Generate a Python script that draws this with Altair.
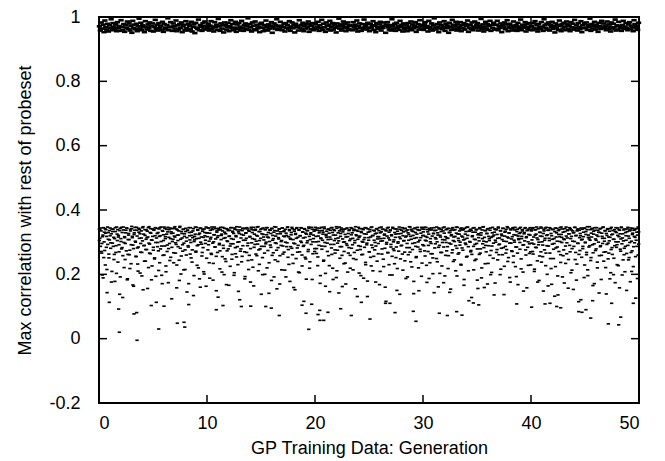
import altair as alt
import pandas as pd

# ---------------- axis ticks ----------------
X_TICKS = [0, 10, 20, 30, 40, 50]
Y_TICKS = [-0.2, 0, 0.2, 0.4, 0.6, 0.8, 1]

X_TITLE = "GP Training Data: Generation"
Y_TITLE = "Max correlation with rest of probeset"

# ---------------- lower band (correlation x 1000), in plotting order per 10 generations ----------------
LOWER_G00 = [341, 312, 287, 335, 266, 198, 322, 345, 301, 274, 229, 339, 318, 143, 293, 330, 251, 307, 344, 281,
             326, 209, 297, 340, 315, 262, 178, 333, 289, 347, 305, 238, 321, 270, 336, 192, 311, 346, 283, 128,
             338, 299, 317, 246, 329, 273, 343, 186, 308, 327, 261, 218, 335, 292, 342, 314, 167, 280, 324, 337,
             303, 256, 346, 319, 232, 285, 331, 340, 204, 296, 313, 268, 345, 152, 325, 290, 339, 241, 309, 277,
             334, 316, 221, 348, 294, 264, 328, 183, 306, 341, 275, 337, 248, 320, 299, 113, 343, 286, 330, 212,
             318, 345, 279, 302, 197, 336, 259, 323, 347, 288, 311, 226, 340, 271, 332, 174, 315, 296, 344, 253,
             327, 284, 342, 309, 236, 319, 348, 266, 293, 158, 338, 305, 322, 244, 346, 281, 201, 333, 313, 272,
             340, 297, 326, 215, 343, 260, 314, 337, 289, 171, 330, 307, 345, 251, 321, 276, 335, 134, 302, 318,
             347, 269, 311, 228, 339, 292, 324, 186, 344, 300, 316, 257, 334, 283, 208, 341, 320, 296, 163, 329]
LOWER_G10 = [329, 276, 344, 303, 188, 337, 315, 262, 341, 297, 234, 323, 347, 285, 310, 149, 335, 268, 320, 343,
             292, 217, 339, 308, 325, 255, 346, 281, 199, 331, 314, 240, 342, 273, 302, 336, 166, 319, 288, 345,
             311, 247, 334, 295, 327, 205, 340, 264, 317, 348, 286, 230, 332, 301, 121, 338, 279, 324, 256, 343,
             306, 342, 270, 193, 328, 312, 345, 289, 243, 336, 259, 318, 176, 341, 298, 330, 222, 346, 284, 309,
             337, 263, 321, 347, 294, 211, 333, 305, 279, 340, 138, 326, 252, 344, 316, 287, 200, 339, 300, 323,
             345, 274, 314, 236, 338, 291, 327, 181, 342, 306, 267, 331, 348, 245, 319, 296, 155, 335, 283, 310,
             341, 258, 326, 302, 214, 344, 288, 333, 269, 317, 340, 192, 321, 298, 347, 277, 231, 336, 312, 286,
             330, 346, 261, 308, 159, 339, 295, 324, 249, 343, 282, 315, 207, 337, 270, 320, 345, 299, 226, 332,
             313, 290, 342, 253, 328, 185, 336, 304, 271, 347, 318, 239, 325, 293, 107, 340, 264, 311, 334, 280]
LOWER_G20 = [338, 301, 265, 344, 227, 319, 290, 335, 172, 313, 346, 278, 306, 331, 244, 342, 287, 203, 324, 315,
             297, 340, 258, 328, 146, 337, 309, 282, 345, 219, 322, 293, 336, 266, 311, 190, 343, 275, 329, 304,
             347, 250, 318, 339, 286, 162, 332, 300, 271, 341, 235, 316, 295, 344, 207, 327, 283, 338, 259, 310,
             323, 343, 292, 214, 336, 268, 305, 348, 246, 320, 131, 334, 289, 315, 342, 277, 196, 330, 302, 262,
             339, 308, 284, 345, 230, 325, 297, 179, 341, 314, 270, 333, 253, 346, 291, 320, 211, 337, 306, 276,
             326, 288, 342, 241, 317, 296, 336, 168, 329, 311, 347, 263, 304, 340, 224, 322, 281, 110, 335, 299,
             344, 267, 313, 331, 198, 338, 293, 320, 256, 346, 279, 307, 233, 341, 325, 285, 150, 334, 301, 272,
             316, 340, 248, 327, 290, 345, 213, 332, 305, 269, 343, 187, 319, 296, 338, 261, 324, 283, 347, 239,
             309, 335, 277, 321, 140, 342, 298, 330, 252, 314, 346, 285, 220, 337, 306, 271, 328, 194, 341, 292]
LOWER_G30 = [332, 289, 346, 257, 318, 304, 175, 339, 271, 325, 343, 236, 311, 296, 338, 264, 202, 327, 345, 282,
             314, 337, 249, 301, 329, 161, 344, 290, 321, 268, 340, 226, 308, 335, 285, 347, 195, 317, 299, 273,
             342, 312, 258, 330, 144, 336, 294, 323, 267, 345, 240, 316, 302, 339, 211, 328, 281, 346, 263, 305,
             325, 291, 341, 229, 319, 338, 275, 307, 184, 343, 297, 333, 254, 312, 347, 286, 118, 334, 300, 270,
             337, 262, 320, 344, 214, 309, 293, 331, 247, 340, 279, 156, 326, 304, 345, 266, 322, 189, 338, 295,
             348, 283, 315, 233, 336, 301, 327, 170, 342, 289, 311, 259, 344, 274, 206, 329, 318, 297, 136, 341,
             306, 339, 268, 324, 245, 347, 292, 313, 199, 335, 281, 320, 261, 343, 303, 225, 331, 287, 340, 277,
             316, 345, 252, 328, 297, 176, 338, 310, 271, 342, 237, 323, 300, 346, 285, 193, 333, 266, 319, 308,
             343, 278, 330, 217, 311, 339, 291, 148, 326, 304, 345, 260, 317, 336, 284, 228, 341, 295, 322, 270]
LOWER_G40 = [335, 297, 343, 263, 316, 209, 338, 284, 325, 347, 242, 308, 292, 181, 331, 319, 270, 344, 301, 255,
             327, 340, 276, 312, 227, 346, 289, 323, 164, 337, 305, 266, 342, 218, 320, 294, 339, 249, 311, 132,
             344, 282, 329, 303, 195, 336, 271, 317, 345, 237, 324, 299, 341, 258, 310, 173, 333, 288, 347, 264,
             313, 338, 246, 326, 290, 342, 205, 318, 280, 335, 153, 330, 302, 346, 268, 321, 232, 340, 296, 115,
             337, 274, 320, 344, 253, 309, 287, 331, 190, 343, 298, 324, 261, 339, 214, 315, 285, 348, 306, 243,
             328, 341, 292, 267, 334, 171, 345, 310, 279, 322, 238, 337, 300, 142, 330, 286, 343, 259, 318, 296,
             346, 269, 312, 335, 221, 327, 293, 340, 248, 316, 304, 186, 342, 277, 323, 262, 336, 199, 309, 289,
             333, 345, 284, 230, 321, 301, 339, 158, 326, 272, 347, 295, 313, 245, 338, 281, 208, 330, 306, 265,
             341, 290, 319, 252, 335, 177, 344, 303, 273, 328, 224, 337, 298, 315, 126, 342, 287, 322, 260, 332]

# second run of lower-band individuals (correlation x 1000)
LOWER2_G00 = [305, 338, 344, 271, 296, 317, 189, 252, 331, 342, 328, 284, 215, 347, 309, 263, 336, 320, 298, 176,
              341, 333, 287, 246, 311, 345, 268, 203, 325, 339, 316, 292, 138, 343, 302, 279, 330, 258, 347, 221,
              314, 296, 337, 344, 183, 262, 322, 308, 275, 340, 233, 349, 318, 291, 163, 329, 346, 300, 255, 337,
              282, 210, 343, 312, 326, 269, 335, 195, 304, 348, 289, 241, 321, 277, 338, 314, 156, 345, 297, 266,
              330, 342, 307, 226, 318, 284, 339, 251, 345, 194, 313, 327, 299, 273, 341, 236, 320, 347, 288, 171,
              334, 305, 260, 343, 317, 208, 325, 291, 346, 280, 339, 243, 311, 332, 124, 302, 328, 267, 344, 316,
              298, 341, 229, 322, 286, 335, 181, 349, 309, 257, 327, 292, 340, 214, 318, 276, 333, 303, 145, 337,
              285, 345, 320, 263, 299, 331, 238, 314, 342, 196, 307, 325, 272, 346, 289, 337, 220, 312, 328, 160,
              343, 294, 268, 339, 315, 201, 330, 306, 347, 250]
LOWER2_G10 = [317, 344, 292, 236, 328, 310, 265, 347, 339, 182, 301, 323, 285, 342, 256, 331, 315, 129, 338, 296,
              273, 346, 321, 207, 335, 290, 312, 343, 248, 326, 168, 304, 340, 279, 318, 337, 225, 295, 345, 262,
              331, 309, 197, 344, 283, 320, 254, 338, 300, 147, 327, 347, 272, 313, 239, 336, 289, 322, 343, 186,
              306, 329, 268, 341, 297, 215, 334, 316, 280, 346, 245, 311, 338, 164, 325, 293, 340, 303, 258, 319,
              348, 276, 231, 333, 312, 287, 342, 199, 324, 307, 266, 339, 295, 345, 220, 316, 330, 141, 302, 337,
              284, 343, 259, 321, 311, 192, 336, 298, 347, 275, 326, 240, 314, 341, 170, 332, 290, 305, 344, 263,
              319, 335, 213, 300, 328, 286, 346, 253, 317, 339, 178, 309, 323, 281, 342, 234, 297, 334, 152, 327,
              312, 345, 269, 290, 338, 205, 320, 303, 344, 260, 331, 287, 116, 340, 315, 248, 325, 298, 336, 277,
              343, 219, 308, 329, 346, 184, 301, 322, 339, 271]
LOWER2_G20 = [346, 318, 280, 337, 254, 302, 329, 343, 196, 311, 288, 336, 325, 241, 347, 299, 163, 320, 334, 271,
              308, 341, 227, 316, 293, 345, 262, 330, 184, 339, 305, 276, 322, 348, 211, 297, 313, 142, 335, 286,
              327, 344, 259, 310, 338, 233, 301, 324, 170, 342, 290, 317, 266, 336, 305, 219, 345, 281, 329, 312,
              249, 340, 298, 155, 323, 337, 275, 309, 346, 204, 319, 287, 333, 261, 342, 300, 188, 326, 314, 237,
              344, 292, 131, 331, 306, 270, 339, 316, 226, 347, 283, 321, 256, 335, 299, 176, 328, 341, 310, 264,
              317, 345, 209, 303, 332, 279, 340, 247, 312, 325, 160, 338, 294, 319, 268, 346, 230, 307, 336, 285,
              323, 198, 343, 301, 274, 330, 315, 252, 341, 218, 297, 326, 347, 138, 311, 289, 337, 263, 320, 304,
              342, 242, 316, 335, 283, 192, 329, 306, 348, 269, 318, 340, 223, 296, 333, 178, 312, 344, 287, 255,
              325, 339, 301, 149, 337, 278, 314, 346, 235, 320]
LOWER2_G30 = [321, 340, 273, 306, 346, 228, 315, 332, 290, 187, 338, 301, 264, 344, 319, 251, 327, 143, 336, 295,
              310, 347, 239, 322, 284, 341, 203, 316, 333, 268, 299, 345, 174, 328, 307, 259, 339, 313, 286, 218,
              343, 297, 330, 154, 320, 341, 276, 305, 337, 245, 318, 289, 347, 195, 326, 312, 267, 335, 300, 231,
              344, 282, 316, 339, 166, 309, 325, 293, 346, 256, 321, 211, 334, 302, 340, 274, 128, 317, 331, 287,
              345, 243, 308, 338, 296, 182, 323, 314, 262, 342, 279, 329, 220, 311, 347, 303, 159, 336, 290, 270,
              327, 341, 234, 318, 305, 337, 199, 315, 288, 346, 250, 322, 331, 173, 300, 339, 277, 312, 344, 261,
              294, 336, 216, 325, 308, 343, 283, 137, 319, 334, 266, 302, 348, 240, 313, 329, 190, 341, 297, 273,
              317, 345, 257, 306, 338, 224, 322, 285, 340, 168, 311, 327, 299, 346, 248, 318, 335, 207, 292, 330,
              343, 276, 314, 158, 337, 301, 324, 265, 345, 229]
LOWER2_G40 = [338, 307, 271, 345, 294, 216, 322, 339, 283, 313, 176, 342, 300, 257, 330, 347, 238, 318, 291, 148,
              335, 306, 344, 266, 321, 200, 337, 288, 312, 345, 249, 327, 169, 309, 340, 278, 296, 333, 224, 316,
              343, 285, 136, 324, 339, 302, 261, 347, 315, 192, 331, 276, 308, 342, 234, 319, 298, 336, 157, 326,
              345, 270, 311, 338, 213, 303, 329, 287, 346, 246, 320, 182, 335, 297, 341, 262, 314, 327, 121, 307,
              340, 280, 317, 344, 229, 300, 333, 268, 348, 196, 322, 310, 289, 339, 252, 316, 343, 165, 325, 295,
              337, 274, 306, 345, 220, 318, 331, 258, 341, 289, 184, 328, 312, 347, 241, 303, 336, 270, 139, 321,
              342, 297, 266, 334, 315, 205, 346, 283, 325, 309, 250, 339, 174, 301, 330, 292, 344, 227, 317, 337,
              278, 310, 345, 198, 326, 304, 261, 341, 287, 320, 150, 333, 346, 245, 312, 299, 338, 268, 209, 324,
              343, 286, 318, 339, 255, 306, 331, 187, 347, 294]

# ---------------- upper band (correlation x 1000), in plotting order per 10 generations ----------------
UPPER_G00 = [971, 958, 983, 964, 976, 953, 989, 968, 961, 979, 955, 974, 966, 993, 959, 981, 970, 962, 977, 956,
             984, 965, 972, 957, 990, 969, 960, 978, 954, 975, 967, 986, 963, 980, 958, 973, 951, 988, 966, 976,
             962, 979, 956, 971, 995, 964, 982, 959, 974, 968, 953, 987, 970, 961, 977, 965, 983, 957, 972, 980,
             955, 969, 991, 963, 976, 958, 981, 966, 973, 960, 985, 954, 978, 967, 962, 975, 996, 959, 970, 984,
             968, 957, 980, 972, 964, 989, 956, 974, 961, 978, 966, 983, 953, 971, 976, 960, 987, 965, 958, 979,
             973, 962, 985, 955, 969, 977, 950, 982, 967, 963, 992, 959, 975, 970, 957, 981, 964, 986, 972, 961]
UPPER_G10 = [966, 979, 958, 973, 987, 962, 970, 955, 984, 968, 976, 960, 994, 971, 957, 980, 964, 974, 952, 983,
             975, 961, 969, 982, 956, 972, 990, 965, 978, 959, 967, 985, 954, 977, 963, 981, 970, 958, 988, 966,
             957, 974, 980, 963, 971, 996, 960, 978, 968, 955, 983, 973, 962, 986, 959, 976, 965, 970, 953, 979,
             982, 967, 956, 975, 961, 989, 970, 958, 977, 964, 972, 984, 951, 969, 980, 963, 975, 993, 960, 971,
             964, 985, 973, 959, 968, 978, 955, 981, 966, 974, 962, 987, 957, 970, 983, 965, 976, 952, 979, 968,
             971, 958, 990, 967, 975, 961, 982, 956, 973, 964, 979, 969, 986, 954, 977, 962, 972, 981, 959, 966]
UPPER_G20 = [978, 963, 970, 985, 957, 974, 966, 991, 960, 979, 968, 954, 983, 972, 962, 976, 988, 958, 969, 981,
             961, 975, 967, 952, 980, 971, 995, 964, 977, 958, 973, 986, 965, 979, 956, 970, 983, 963, 974, 960,
             973, 959, 984, 968, 976, 962, 989, 955, 971, 980, 966, 957, 978, 964, 992, 969, 975, 961, 982, 967,
             956, 979, 965, 972, 987, 960, 974, 953, 981, 968, 963, 977, 985, 958, 970, 966, 983, 973, 951, 976,
             984, 968, 961, 975, 958, 993, 971, 964, 979, 957, 982, 966, 973, 960, 988, 969, 976, 955, 980, 963,
             967, 974, 956, 981, 970, 962, 986, 959, 977, 965, 972, 984, 954, 969, 978, 961, 990, 975, 964, 971]
UPPER_G30 = [960, 977, 984, 966, 972, 955, 988, 969, 963, 980, 958, 974, 996, 967, 961, 978, 970, 953, 983, 965,
             975, 962, 970, 987, 957, 979, 966, 973, 951, 982, 968, 960, 991, 976, 964, 971, 985, 958, 977, 963,
             969, 984, 956, 974, 965, 981, 961, 978, 972, 989, 954, 967, 976, 963, 983, 959, 970, 986, 966, 974,
             981, 958, 973, 967, 994, 962, 977, 955, 970, 985, 964, 978, 960, 972, 988, 957, 975, 966, 982, 961,
             963, 976, 988, 959, 971, 966, 980, 953, 974, 968, 983, 962, 977, 990, 956, 970, 979, 965, 973, 958,
             986, 968, 961, 975, 957, 982, 970, 964, 992, 959, 976, 967, 972, 984, 955, 978, 963, 969, 981, 960]
UPPER_G40 = [972, 959, 981, 966, 987, 962, 975, 955, 978, 968, 963, 984, 970, 957, 993, 974, 965, 979, 961, 983,
             958, 976, 969, 985, 963, 971, 952, 980, 967, 975, 960, 989, 973, 956, 978, 964, 982, 970, 959, 986,
             977, 963, 972, 956, 984, 968, 979, 961, 991, 966, 974, 958, 981, 969, 962, 987, 953, 975, 967, 980,
             965, 983, 960, 974, 969, 995, 957, 978, 964, 971, 985, 961, 976, 968, 954, 982, 972, 963, 988, 966,
             980, 967, 973, 959, 986, 962, 977, 970, 955, 983, 964, 979, 968, 992, 958, 974, 961, 985, 971, 966,
             957, 975, 988, 963, 970, 981, 966, 959, 977, 984, 962, 973, 969, 956, 990, 978, 965, 972, 960, 982]

# ---------------- sparse low points read individually (generation, correlation) ----------------
SPARSE_GEN = [1.82, 3.24, 3.49, 1.88, 3.52, 5.53, 7.25, 7.87, 7.94, 16.69, 19.42, 20.46, 20.81, 19.17,
              20.28, 21.20, 23.36, 25.09, 27.41, 29.35, 31.51, 32.25, 33.12, 33.61, 44.42, 44.72, 45.09,
              45.53, 47.16, 48.12, 48.31,
              0.95, 4.84, 6.02, 8.31, 10.86, 11.48, 13.18, 14.05, 15.44, 15.95, 18.80, 20.44, 22.38,
              24.29, 26.57, 26.94, 29.10, 34.66, 35.16, 38.68, 40.06, 41.30, 41.76, 42.38, 42.75, 45.71,
              47.47, 49.47]
SPARSE_VAL = [0.092, 0.077, 0.081, 0.020, -0.005, 0.030, 0.048, 0.051, 0.036, 0.072, 0.029, 0.057, 0.057,
              0.079, 0.075, 0.082, 0.072, 0.061, 0.081, 0.054, 0.079, 0.072, 0.084, 0.073, 0.084, 0.082,
              0.090, 0.064, 0.046, 0.043, 0.067,
              0.113, 0.103, 0.101, 0.106, 0.090, 0.103, 0.100, 0.101, 0.100, 0.095, 0.104, 0.088, 0.093,
              0.113, 0.116, 0.110, 0.085, 0.111, 0.105, 0.108, 0.098, 0.108, 0.110, 0.100, 0.096, 0.118,
              0.110, 0.110]


def band_rows(segments):
    rows = []
    for start, vals in segments:
        n = len(vals)
        for i, v in enumerate(vals):
            rows.append({"gen": start + (i + 0.5) * 10.0 / n, "corr": v / 1000.0})
    return rows


rows = band_rows([(0, LOWER_G00), (10, LOWER_G10), (20, LOWER_G20), (30, LOWER_G30), (40, LOWER_G40),
                  (0, LOWER2_G00), (10, LOWER2_G10), (20, LOWER2_G20), (30, LOWER2_G30), (40, LOWER2_G40)])
rows += [{"gen": g, "corr": v} for g, v in zip(SPARSE_GEN, SPARSE_VAL)]
lower_df = pd.DataFrame(rows)
upper_df = pd.DataFrame(band_rows([(0, UPPER_G00), (10, UPPER_G10), (20, UPPER_G20),
                                   (30, UPPER_G30), (40, UPPER_G40)]))

FONT = "Liberation Sans"
W, H = 540, 386
TICK_LEN = 8
DASH = "M-1,-0.5H1V0.5H-1Z"

x_scale = alt.Scale(domain=[0, 50], nice=False, zero=False)
y_scale = alt.Scale(domain=[-0.2, 1], nice=False, zero=False)

x_axis = alt.Axis(values=X_TICKS, title=X_TITLE, ticks=False, tickSize=0, domain=False, grid=False,
                  labelFontSize=18, labelFont=FONT, labelColor="black", labelPadding=11,
                  titleFontSize=18, titleFont=FONT, titleFontWeight="normal", titleColor="black",
                  titlePadding=7)
y_axis = alt.Axis(values=Y_TICKS, title=Y_TITLE, ticks=False, tickSize=0, domain=False, grid=False,
                  labelFontSize=18, labelFont=FONT, labelColor="black", labelPadding=19,
                  labelExpr="datum.value < 0 ? '-' + format(-datum.value, '~g') : format(datum.value, '~g')",
                  titleFontSize=18, titleFont=FONT, titleFontWeight="normal", titleColor="black",
                  titlePadding=14)

lower = alt.Chart(lower_df).mark_point(shape=DASH, filled=True, color="black", opacity=1,
                                       strokeWidth=0, size=11).encode(
    x=alt.X("gen:Q", scale=x_scale, axis=x_axis),
    y=alt.Y("corr:Q", scale=y_scale, axis=y_axis),
)
upper = alt.Chart(upper_df).mark_point(shape=DASH, filled=True, color="black", opacity=1,
                                       strokeWidth=0, size=28).encode(
    x=alt.X("gen:Q", scale=x_scale, axis=x_axis),
    y=alt.Y("corr:Q", scale=y_scale, axis=y_axis),
)

xt = pd.DataFrame({"gen": X_TICKS})
yt = pd.DataFrame({"corr": Y_TICKS})
bottom_ticks = alt.Chart(xt).mark_rule(color="black", strokeWidth=1.5).encode(
    x=alt.X("gen:Q", scale=x_scale, axis=x_axis), y=alt.value(H), y2=alt.value(H - TICK_LEN))
top_ticks = alt.Chart(xt).mark_rule(color="black", strokeWidth=1.5).encode(
    x=alt.X("gen:Q", scale=x_scale, axis=x_axis), y=alt.value(0), y2=alt.value(TICK_LEN))
left_ticks = alt.Chart(yt).mark_rule(color="black", strokeWidth=1.5).encode(
    y=alt.Y("corr:Q", scale=y_scale, axis=y_axis), x=alt.value(0), x2=alt.value(TICK_LEN))
right_ticks = alt.Chart(yt).mark_rule(color="black", strokeWidth=1.5).encode(
    y=alt.Y("corr:Q", scale=y_scale, axis=y_axis), x=alt.value(W), x2=alt.value(W - TICK_LEN))

chart = alt.layer(lower, upper, bottom_ticks, top_ticks, left_ticks, right_ticks).properties(
    width=W, height=H,
    padding={"left": 91, "top": 9, "right": 10, "bottom": 56},
    autosize=alt.AutoSizeParams(type="none"),
    background="white",
).configure_view(stroke="black", strokeWidth=2)

chart.save("out.html", embed_options={"renderer": "svg", "actions": False})
